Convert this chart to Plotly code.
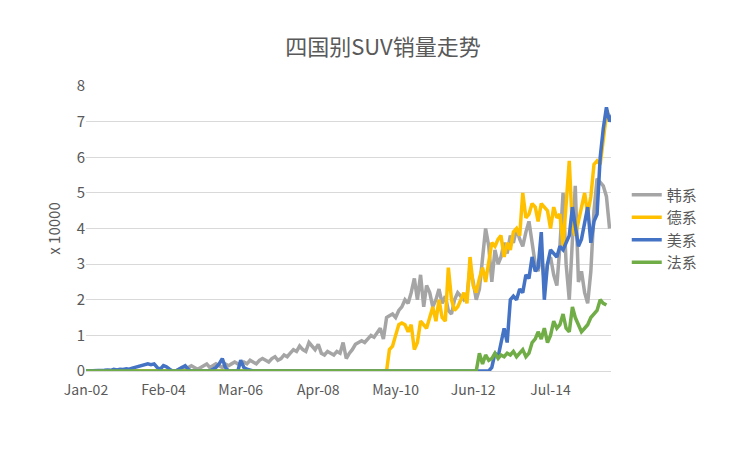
import plotly.graph_objects as go
import pandas as pd

korean = ([0]*30 +
 [0.05,0.1,0.05,0.1,0.15,0.1,0.05,0.1,0.15,0.2,0.1,0.15,0.2,0.15,0.1,0.2,0.15,0.2,0.25,0.2,
  0.2,0.25,0.2,0.3,0.25,0.2,0.3,0.35,0.3,0.25,0.35,0.4,0.3,0.35,0.45,0.4,0.5,0.6,0.55,0.7,
  0.6,0.55,0.8,0.7,0.6,0.75,0.5,0.45,0.55,0.5,0.45,0.55,0.5,0.8,0.35,0.5,0.6,0.75,0.8,0.85,
  0.8,0.9,1.0,0.95,1.1,1.2,0.9,1.5,1.55,1.6,1.5,1.7,1.8,2.0,1.9,2.2,2.6,2.0,2.7,1.8,
  2.4,2.2,1.8,2.0,2.3,1.9,2.1,1.7,1.6,2.0,2.2,2.1,2.0,2.1,2.9,2.5,2.0,2.3,3.2,4.0,
  3.5,2.5,3.4,3.0,3.2,3.6,3.3,3.8,3.6,4.0,3.7,3.5,3.9,4.2,3.6,3.0,2.8,3.3,2.5,3.0,
  3.2,2.7,2.4,3.5,5.0,3.0,2.0,3.8,5.2,2.5,2.8,2.2,1.9,2.8,4.5,5.4,5.3,5.2,4.9,4.0])
german = ([0]*98 +
 [0.6,0.7,1.0,1.3,1.35,1.3,1.1,1.3,0.6,0.8,1.4,1.3,1.2,1.5,1.8,1.4,2.0,1.5,1.4,2.9,
  2.0,1.7,1.8,2.0,2.2,1.9,3.2,2.4,2.2,2.6,2.9,2.5,3.1,3.6,3.5,3.7,3.8,3.2,3.6,3.4,
  3.9,4.0,3.8,5.0,4.3,4.4,4.7,4.6,4.2,4.7,4.6,4.5,4.0,4.6,4.3,4.4,3.5,4.8,5.9,4.0,
  3.8,4.2,4.6,5.0,4.4,4.9,5.8,5.9,5.8,6.5,7.2,7.2])
american = ([0]*6 + [0.02,0.03,0.02,0.05,0.03,0.05,0.04,0.06,0.05,0.08,0.1,0.12,0.15,0.18,0.2,0.18,0.2,0.1,0.05,0.15,
  0.12,0.05,0,0,0.05,0.1,0.15,0.05,0,0,0,0,0,0,0,0.05,0.1,0.2,0.35,0.1,0,0,0,0,0.3,0.1,0.05,0.02]
  + [0]*77 +
 [0.1,0.5,0.4,0.8,1.2,0.8,2.0,2.1,2.0,2.3,2.2,2.7,2.6,3.2,2.8,2.9,3.9,2.0,3.0,3.4,
  3.3,3.2,3.5,3.4,3.6,3.8,4.6,4.0,3.5,3.7,4.2,4.6,3.6,4.2,4.4,6.0,6.8,7.4,7.0,7.2])
french = ([0]*127 +
 [0.5,0.2,0.45,0.3,0.35,0.5,0.35,0.45,0.4,0.5,0.45,0.55,0.4,0.5,0.6,0.4,0.5,0.8,0.9,1.1,
  0.9,1.2,0.8,1.0,1.4,1.2,1.3,1.6,1.2,1.1,1.8,1.5,1.3,1.1,1.2,1.3,1.5,1.6,1.7,2.0,1.9,1.85])

tick_labels = ["Jan-02","Feb-04","Mar-06","Apr-08","May-10","Jun-12","Jul-14"]
tick_dates = ["2002-01-01","2004-02-01","2006-03-01","2008-04-01","2010-05-01","2012-06-01","2014-07-01"]

series = [("韩系", korean, "#A5A5A5"), ("德系", german, "#FFC000"),
          ("美系", american, "#4472C4"), ("法系", french, "#70AD47")]

fig = go.Figure()
for name, vals, col in series:
    x = pd.date_range("2002-01-01", periods=len(vals), freq="MS")
    fig.add_trace(go.Scatter(x=x, y=vals, name=name, mode="lines",
                             line=dict(color=col, width=3.5)))

fig.update_layout(
    width=750, height=449, plot_bgcolor="white", paper_bgcolor="white",
    font=dict(family="Noto Sans CJK SC", color="#595959"),
    title=dict(text="四国别SUV销量走势", x=0.5, y=0.93, font=dict(size=22)),
    margin=dict(l=78, r=147, t=78, b=86),
    legend=dict(x=1.03, y=0.5, yanchor="middle", font=dict(size=15), tracegroupgap=8),
    xaxis=dict(tickvals=tick_dates, ticktext=tick_labels, range=["2002-01-01","2016-02-15"],
               showgrid=False, showline=True, linecolor="#D9D9D9", tickfont=dict(size=14),
               ticks="outside", ticklen=6, tickcolor="white"),
    yaxis=dict(range=[0, 8], dtick=1, gridcolor="#D9D9D9", zeroline=False,
               tickfont=dict(size=15), title=dict(text="x 10000", font=dict(size=15), standoff=12)),
)
fig.write_html("out.html")
